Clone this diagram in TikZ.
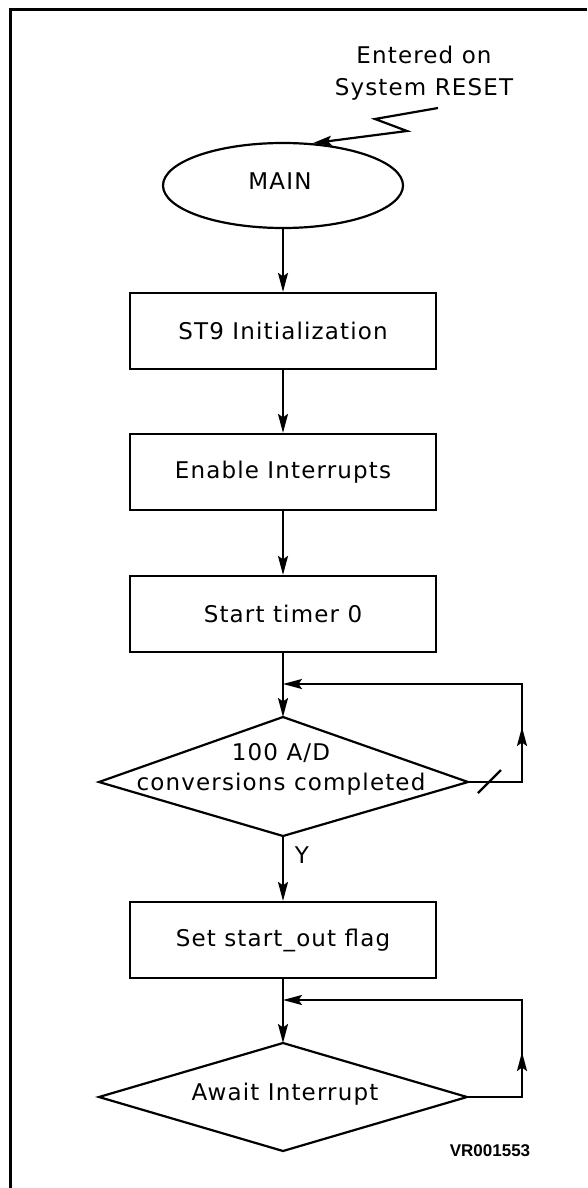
\documentclass[tikz,border=0pt]{standalone}
\usepackage{fontspec}
\setmainfont{DejaVu Sans}[LetterSpace=5]
\newfontfamily\tagfont{Liberation Sans}
\usetikzlibrary{arrows.meta,shapes.geometric}

\begin{document}
\begin{tikzpicture}[x=1pt, y=-1pt, line width=2.2pt,
  flow/.style={-{Stealth[length=19pt,width=10pt,inset=3.5pt]}},
  every node/.style={font=\fontsize{23}{32}\selectfont, inner sep=0pt},
  stepbox/.style={draw, minimum width=306pt, minimum height=76pt},
  startshape/.style={draw, ellipse, minimum width=240pt, minimum height=85pt},
  decision/.style={draw, line join=miter},
  frameline/.style={line width=3pt}]

\useasboundingbox (0,0) rectangle (587,1188);

% outer frame (top and left edges only)
\draw[frameline] (10,1188) -- (10,10) -- (587,10);

% entry note with the jagged arrow into MAIN
\node[align=center] (entry) at (424,73) {Entered on\\System RESET};
\node[startshape] (main) at (283,185.5) {};
\node (maintext) at (280,181) {MAIN};
\coordinate (z0) at (438,108);
\coordinate (z1) at (375,119);
\coordinate (z2) at (407,131);
\draw[flow] (z0) -- (z1) -- (z2) -- (main.55);

% process boxes
\node[stepbox] (init)   at (283,331) {ST9 Initialization};
\node[stepbox] (enable) at (283,472) {Enable Interrupts};
\node[stepbox] (timer)  at (283,614) {Start timer 0};
\node[stepbox] (flag)   at (283,940) {Set start\_out flag};

% decision 1
\coordinate (d1n) at (283,717);
\coordinate (d1e) at (468,782);
\coordinate (d1s) at (283,836);
\coordinate (d1w) at (99,782);
\draw[decision] (d1n) -- (d1e) -- (d1s) -- (d1w) -- cycle;
\node[align=center, font=\fontsize{23}{30}\selectfont] (conv) at (281,769) {100 A/D\\conversions completed};

% decision 2
\coordinate (d2n) at (283,1043);
\coordinate (d2e) at (467,1097);
\coordinate (d2s) at (283,1151);
\coordinate (d2w) at (99,1097);
\draw[decision] (d2n) -- (d2e) -- (d2s) -- (d2w) -- cycle;
\node (await) at (285,1094) {Await Interrupt};

% main flow
\draw[flow] (main.south) -- (init.north);
\draw[flow] (init.south) -- (enable.north);
\draw[flow] (enable.south) -- (timer.north);
\draw[flow] (timer.south) -- (d1n);
\draw[flow] (d1s) -- (flag.north);
\node (ylab) at (302,855) {Y};
\draw[flow] (flag.south) -- (d2n);

% loop back from decision 1
\coordinate (j1) at (283,684);
\coordinate (r1a) at (522,782);
\coordinate (r1b) at (522,684);
\coordinate (m1) at (522,727);
\draw[flow] (d1e) -- (r1a) -- (r1b) -- (j1);
\draw[flow] (r1a) -- (m1);
\coordinate (s1a) at (478,793);
\coordinate (s1b) at (501,770);
\draw (s1a) -- (s1b);

% loop back from decision 2
\coordinate (j2) at (283,1000);
\coordinate (r2a) at (522,1097);
\coordinate (r2b) at (522,1000);
\coordinate (m2) at (522,1052);
\draw[flow] (d2e) -- (r2a) -- (r2b) -- (j2);
\draw[flow] (r2a) -- (m2);

% figure tag
\node[font=\tagfont\bfseries\fontsize{17}{20}\selectfont] (tag) at (490,1151) {VR001553};
\end{tikzpicture}
\end{document}
